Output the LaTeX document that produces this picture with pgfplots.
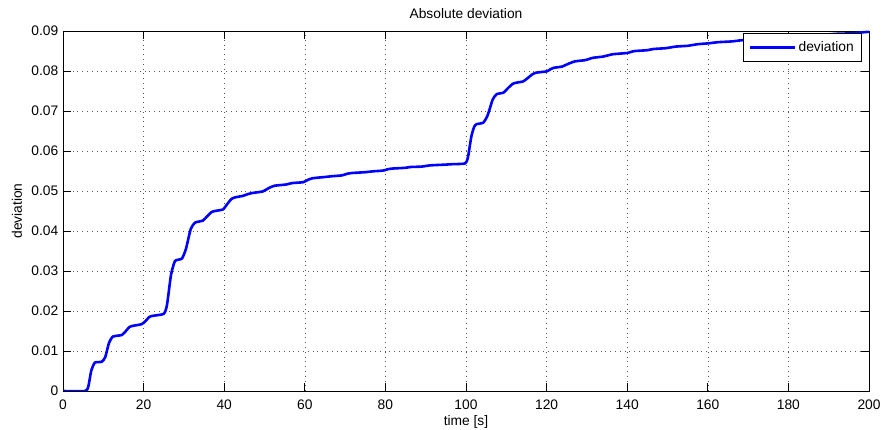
\documentclass[border=0pt]{standalone}
\usepackage{pgfplots}
\pgfplotsset{compat=1.18}
\usepackage{fontspec}
\setmainfont{Liberation Sans}
\begin{document}
\fontsize{13.8}{16}\selectfont
\begin{tikzpicture}
\begin{axis}[
  scale only axis, width=806pt, height=360pt,
  xmin=0, xmax=200, ymin=0, ymax=0.09,
  xtick={0,20,40,60,80,100,120,140,160,180,200},
  ytick={0,0.01,0.02,0.03,0.04,0.05,0.06,0.07,0.08,0.09},
  yticklabels={0,0.01,0.02,0.03,0.04,0.05,0.06,0.07,0.08,0.09},
  scaled y ticks=false,
  /pgf/number format/assume math mode=true,
  tick align=inside, major tick length=8pt,
  tick style={black, line width=0.8pt},
  axis line style={black, line width=0.9pt},
  grid=major,
  major grid style={black!65, line width=0.6pt, dash pattern=on 0.8pt off 4pt},
  xticklabel style={yshift=-4pt},
  title={Absolute deviation},
  title style={at={(axis description cs:0.5,1)}, anchor=base, yshift=6pt},
  xlabel={time [s]},
  xlabel style={at={(axis description cs:0.5,0)}, anchor=base, yshift=-35pt},
  ylabel={deviation},
  ylabel style={at={([xshift=-41pt]axis description cs:0,0.5)}, anchor=base},
  legend style={at={(0.991,0.994)}, anchor=north east, draw=black, fill=white,
    line width=0.8pt, inner xsep=5.5pt, inner ysep=6pt, font=\fontsize{13.8}{16}\selectfont},
  legend cell align=left,
  legend image code/.code={\draw[#1] (0pt,0pt) -- (45pt,0pt);},
]
\addplot[blue, line width=2.6pt, smooth, tension=0.35] coordinates {
(0,0) (5.5,0) (6.3,0.0012) (7.0,0.0050)
(7.9,0.0071) (9.6,0.0073) (10.5,0.0085) (11.4,0.0120)
(12.4,0.0136) (14.6,0.0140) (15.6,0.0150) (16.5,0.0160)
(17.4,0.0163) (19.5,0.0167) (20.5,0.0175) (21.4,0.0185)
(22.3,0.0188) (25.0,0.0193) (25.8,0.0215) (26.8,0.0290)
(27.8,0.0325) (29.5,0.0331) (30.5,0.0355) (31.7,0.0405)
(32.8,0.0421) (34.7,0.0426) (35.8,0.0437) (36.8,0.0447)
(37.7,0.0450) (39.7,0.0454) (40.8,0.0468) (41.8,0.0480)
(42.7,0.0484) (44.7,0.0488) (45.8,0.0492)
(47.0,0.0495) (49.6,0.0499) (51.0,0.0507)
(52.4,0.0513) (55.2,0.0516) (56.1,0.0518)
(57.0,0.0520) (59.6,0.0522) (60.8,0.0528)
(62.0,0.0532) (65.0,0.0535)
(66.8,0.0537) (69.2,0.0539) (70.5,0.0543)
(71.7,0.0545) (75.0,0.0547)
(76.7,0.0549) (79.4,0.0551) (80.5,0.0554)
(81.6,0.0556) (85.0,0.0558)
(86.2,0.0560) (89.0,0.0561)
(91.0,0.0564) (95.0,0.0566)
(96.5,0.0567) (99.8,0.0569) (100.5,0.0585) (101.3,0.0635) (102.0,0.0660)
(102.6,0.0667) (104.3,0.0671) (105.4,0.0690) (106.6,0.0728)
(107.6,0.0742) (109.3,0.0746) (110.5,0.0758) (111.6,0.0768)
(112.6,0.0771) (114.2,0.0774) (115.4,0.0783) (116.5,0.0792)
(117.5,0.0796) (120.0,0.0799) (120.9,0.0804)
(121.8,0.0808) (123.8,0.0811) (125.4,0.0818)
(127.0,0.0824) (129.5,0.0827) (130.5,0.0830)
(131.5,0.0833) (134.0,0.0836) (135.2,0.0839)
(136.5,0.0842) (140.0,0.0845) (141.0,0.0848)
(142.0,0.0850) (145.0,0.0852)
(146.5,0.0855) (149.5,0.0857)
(152.0,0.0861) (155.0,0.0863)
(157.5,0.0867) (160.0,0.0869)
(162.5,0.0872) (166.0,0.0874)
(168.5,0.0877) (171.5,0.0879)
(174.0,0.0882) (177.0,0.0884)
(180.0,0.0886) (183.0,0.0888)
(186.0,0.0890) (189.0,0.0891)
(192.0,0.0893) (195.0,0.0894)
(200.0,0.0898)
};
\addlegendentry{deviation}
\end{axis}
\pgfresetboundingbox
\path[use as bounding box] ([xshift=-63pt,yshift=-39pt]current axis.south west) rectangle ([xshift=13pt,yshift=31pt]current axis.north east);
\end{tikzpicture}
\end{document}
